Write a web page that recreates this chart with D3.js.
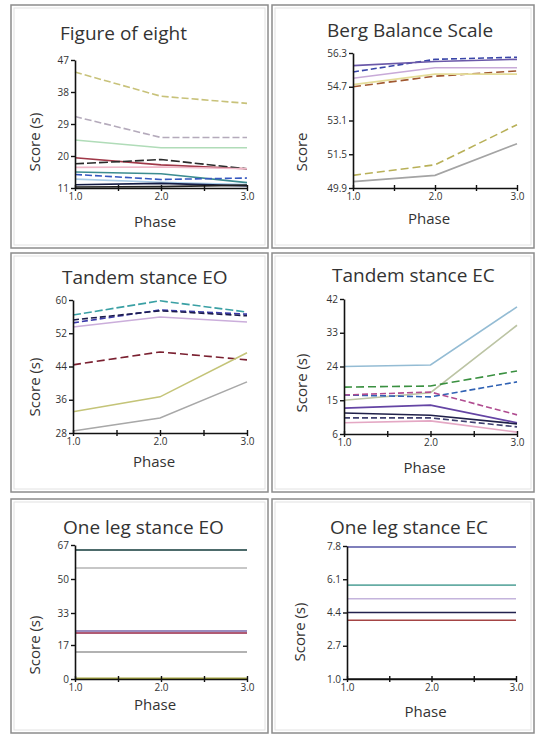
<!DOCTYPE html>
<html>
<head>
<meta charset="utf-8">
<script src="https://cdn.jsdelivr.net/npm/d3@7"></script>
<style>
  body { margin: 0; background: #fff; }
  svg text { font-family: "Open Sans", "Noto Sans", sans-serif; fill: #333; }
</style>
</head>
<body>
<div id="chart"></div>
<script>
// x values shared by every panel
var phases = [1.0, 2.0, 3.0];
var phaseTicks = [1.0, 1.5, 2.0, 2.5, 3.0];

// Figure of eight (s)
var fig8Ticks = [11, 20, 29, 38, 47];
var fig8Series = [
    [43.6, 36.8, 34.8],
    [31.1, 25.2, 25.2],
    [24.5, 22.3, 22.3],
    [19.5, 17.5, 16.4],
    [17.8, 19.0, 16.4],
    [16.8, 16.9, 16.4],
    [15.5, 15.0, 12.5],
    [14.8, 13.4, 13.8],
    [13.5, 12.6, 12.0],
    [11.9, 12.3, 11.6],
    [11.3, 11.4, 11.8]
];

// Berg Balance Scale
var bergTicks = [49.9, 51.5, 53.1, 54.7, 56.3];
var bergSeries = [
    [55.4, 56.0, 56.1],
    [55.7, 55.9, 56.0],
    [55.1, 55.6, 55.6],
    [54.7, 55.2, 55.45],
    [54.8, 55.3, 55.3],
    [50.5, 51.0, 52.9],
    [50.2, 50.5, 52.0]
];

// Tandem stance EO (s)
var tandemEOTicks = [28, 36, 44, 52, 60];
var tandemEOSeries = [
    [56.4, 59.8, 57.1],
    [54.5, 57.6, 56.6],
    [55.2, 57.4, 56.2],
    [53.5, 55.9, 54.7],
    [44.4, 47.5, 45.6],
    [33.1, 36.7, 47.3],
    [28.5, 31.6, 40.3]
];

// Tandem stance EC (s)
var tandemECTicks = [6, 15, 24, 33, 42];
var tandemECSeries = [
    [24.0, 24.4, 39.9],
    [15.0, 17.0, 35.0],
    [18.5, 18.8, 22.8],
    [16.4, 15.9, 19.9],
    [16.4, 17.2, 11.1],
    [12.9, 13.7, 9.0],
    [11.6, 11.0, 8.7],
    [10.3, 10.3, 7.9],
    [9.0, 9.5, 6.5]
];

// One leg stance EO (s)
var oneLegEOTicks = [0, 17, 33, 50, 67];
var oneLegEOSeries = [
    [64.5, 64.5, 64.5],
    [55.5, 55.5, 55.5],
    [24.0, 24.0, 24.0],
    [23.0, 23.0, 23.0],
    [13.5, 13.5, 13.5],
    [0.4, 0.4, 0.4]
];

// One leg stance EC (s)
var oneLegECTicks = [1.0, 2.7, 4.4, 6.1, 7.8];
var oneLegECSeries = [
    [7.75, 7.75, 7.75],
    [5.8, 5.8, 5.8],
    [5.1, 5.1, 5.1],
    [4.4, 4.4, 4.4],
    [4.0, 4.0, 4.0],
    [1.0, 1.0, 1.0]
];

var W = 535, H = 737;
var svg = d3.select('#chart').append('svg')
    .attr('width', W)
    .attr('height', H);

// colour / dash per line, same order as the series arrays
var fig8Styles = [
    ['#c8c27a', '7,3'], ['#b4aabb', '7,3'], ['#b0dcb8', null], ['#a03848', null],
    ['#2a2a2a', '9,3'], ['#f0b8c8', null], ['#3c8c90', null], ['#3658c0', '7,3'],
    ['#a8cce8', null], ['#141c44', null], ['#202020', null]
];
var bergStyles = [
    ['#3a46a8', '6,3'], ['#6a58a8', null], ['#c8aad8', null], ['#a05830', '8,4'],
    ['#e4dc98', null], ['#b8b058', '8,4'], ['#a4a4a4', null]
];
var tandemEOStyles = [
    ['#3aa0a4', '8,3'], ['#3a3aaa', '6,3'], ['#1c1c4c', '6,3'], ['#cbaedb', null],
    ['#7a2030', '8,4'], ['#c4c478', null], ['#a8a8a8', null]
];
var tandemECStyles = [
    ['#94bcd4', null], ['#bcc4a4', null], ['#3a9040', '8,4'], ['#3062b4', '6,3'],
    ['#b04c90', '6,3'], ['#6444a4', null], ['#20204a', null], ['#404070', '6,3'],
    ['#e4a8c4', null]
];
var oneLegEOStyles = [
    ['#123a3a', null], ['#b4b4b4', null], ['#7a64a8', null], ['#962446', null],
    ['#989898', null], ['#a4a440', null]
];
var oneLegECStyles = [
    ['#5454a4', null], ['#66aca4', null], ['#c4b4dc', null], ['#22224e', null],
    ['#a44444', null], ['#202020', null]
];

var panels = [
    {title: 'Figure of eight', ylab: 'Score (s)', ticks: fig8Ticks, fmt: d3.format('d'),
     series: fig8Series, styles: fig8Styles,
     box: [11, 5, 268, 248], plot: [75, 60, 247, 188], ylabXY: [35, 142], xlabY: 227, titleX: 60, titleY: 40},
    {title: 'Berg Balance Scale', ylab: 'Score', ticks: bergTicks, fmt: d3.format('.1f'),
     series: bergSeries, styles: bergStyles,
     box: [272, 5, 534, 248], plot: [353, 53, 517, 188], ylabXY: [302, 152], xlabY: 224, titleX: 327, titleY: 37},
    {title: 'Tandem stance EO', ylab: 'Score (s)', ticks: tandemEOTicks, fmt: d3.format('d'),
     series: tandemEOSeries, styles: tandemEOStyles,
     box: [11, 253, 268, 492], plot: [73, 300, 247, 433], ylabXY: [35, 387], xlabY: 467, titleX: 62, titleY: 284},
    {title: 'Tandem stance EC', ylab: 'Score (s)', ticks: tandemECTicks, fmt: d3.format('d'),
     series: tandemECSeries, styles: tandemECStyles,
     box: [272, 253, 534, 492], plot: [344, 299, 517, 434], ylabXY: [302, 383], xlabY: 473, titleX: 332, titleY: 282},
    {title: 'One leg stance EO', ylab: 'Score (s)', ticks: oneLegEOTicks, fmt: d3.format('d'),
     series: oneLegEOSeries, styles: oneLegEOStyles,
     box: [11, 499, 268, 733], plot: [75, 545, 247, 679], ylabXY: [35, 645], xlabY: 710, titleX: 63, titleY: 534},
    {title: 'One leg stance EC', ylab: 'Score (s)', ticks: oneLegECTicks, fmt: d3.format('.1f'),
     series: oneLegECSeries, styles: oneLegECStyles,
     box: [272, 499, 534, 733], plot: [347, 546, 516, 679], ylabXY: [300, 632], xlabY: 717, titleX: 330, titleY: 534}
];

panels.forEach(drawPanel);

function drawPanel(p) {
    var g = svg.append('g');

    // panel frame (dark outer line + faint inner line)
    g.append('rect')
        .attr('x', p.box[0]).attr('y', p.box[1])
        .attr('width', p.box[2] - p.box[0]).attr('height', p.box[3] - p.box[1])
        .attr('fill', 'none').attr('stroke', '#8c8c8c').attr('stroke-width', 1.5);
    g.append('rect')
        .attr('x', p.box[0] + 3).attr('y', p.box[1] + 3)
        .attr('width', p.box[2] - p.box[0] - 6).attr('height', p.box[3] - p.box[1] - 6)
        .attr('fill', 'none').attr('stroke', '#e2e2e2').attr('stroke-width', 1);

    var x = d3.scaleLinear().domain([1, 3]).range([p.plot[0], p.plot[2]]);
    var y = d3.scaleLinear()
        .domain([p.ticks[0], p.ticks[p.ticks.length - 1]])
        .range([p.plot[3], p.plot[1]]);

    var line = d3.line()
        .x(function (d, i) { return x(phases[i]); })
        .y(function (d) { return y(d); })
        .curve(d3.curveLinear);

    // lines
    g.append('g').selectAll('path')
        .data(p.series)
        .enter()
        .append('path')
        .attr('d', line)
        .attr('fill', 'none')
        .attr('stroke', function (d, i) { return p.styles[i][0]; })
        .attr('stroke-dasharray', function (d, i) { return p.styles[i][1]; })
        .attr('stroke-width', 1.6);

    // y axis
    var yAxis = d3.axisLeft(y)
        .tickValues(p.ticks)
        .tickFormat(p.fmt)
        .tickSizeInner(4)
        .tickSizeOuter(0)
        .tickPadding(2);
    var yg = g.append('g')
        .attr('transform', 'translate(' + p.plot[0] + ',0)')
        .call(yAxis);
    yg.select('.domain').attr('stroke', '#111').attr('stroke-width', 1.6);
    yg.selectAll('line').attr('stroke', '#111').attr('stroke-width', 1.4);
    yg.selectAll('text').attr('font-size', '10px').attr('fill', '#333');

    // x axis, minor ticks unlabeled
    var xAxis = d3.axisBottom(x)
        .tickValues(phaseTicks)
        .tickFormat(function (d) { return d % 1 === 0 ? d3.format('.1f')(d) : ''; })
        .tickSizeInner(3)
        .tickSizeOuter(0)
        .tickPadding(2);
    var xg = g.append('g')
        .attr('transform', 'translate(0,' + p.plot[3] + ')')
        .call(xAxis);
    xg.select('.domain').attr('stroke', '#111').attr('stroke-width', 1.6);
    xg.selectAll('line').attr('y1', -3).attr('stroke', '#111').attr('stroke-width', 1.4);
    xg.selectAll('text').attr('font-size', '10px').attr('fill', '#333');

    // titles and axis labels
    g.append('text')
        .text(p.title)
        .attr('x', p.titleX)
        .attr('y', p.titleY)
        .attr('font-size', '19px')
        .attr('fill', '#222');

    g.append('text')
        .text('Phase')
        .attr('x', (p.plot[0] + p.plot[2]) / 2 - 6)
        .attr('y', p.xlabY)
        .attr('text-anchor', 'middle')
        .attr('font-size', '15px');

    g.append('text')
        .text(p.ylab)
        .attr('transform', 'translate(' + p.ylabXY[0] + ',' + p.ylabXY[1] + ') rotate(-90)')
        .attr('text-anchor', 'middle')
        .attr('dy', '0.35em')
        .attr('font-size', '15px');
}
</script>
</body>
</html>
